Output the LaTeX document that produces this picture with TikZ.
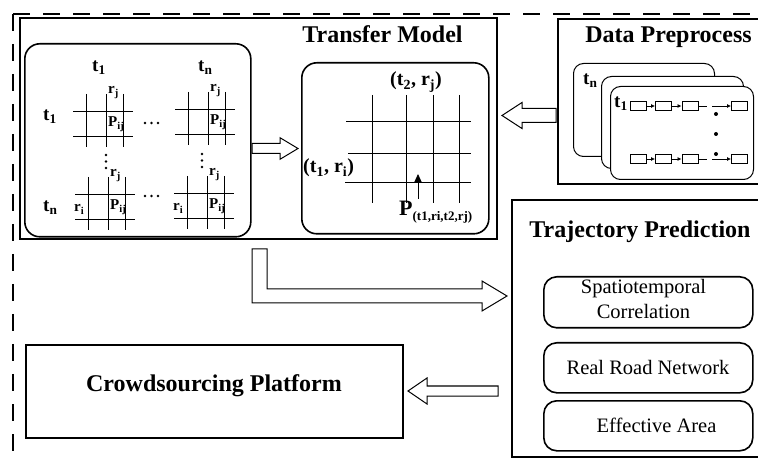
\documentclass[tikz,border=0pt]{standalone}
\usepackage{fontspec}
\setmainfont{Liberation Serif}
\usetikzlibrary{arrows.meta}
\tikzset{
  mainbox/.style={draw, line width=2pt, anchor=north west, inner sep=0pt, outer sep=0pt},
  rbox/.style={draw, line width=1.6pt, rounded corners=15pt, anchor=north west, inner sep=0pt},
  card/.style={draw, line width=1pt, rounded corners=10pt, fill=white, anchor=north west, inner sep=0pt},
  optbox/.style={draw, line width=1.6pt, rounded corners=13pt, anchor=north west, inner sep=0pt},
  title/.style={font=\fontsize{24}{28}\selectfont\bfseries, anchor=base, inner sep=0pt},
  tlabel/.style={font=\fontsize{19}{22}\selectfont\bfseries, anchor=base west, inner sep=0pt},
  small/.style={font=\fontsize{15}{18}\selectfont\bfseries, anchor=base west, inner sep=0pt},
  coord/.style={font=\fontsize{20}{24}\selectfont\bfseries, inner sep=0pt},
  body/.style={font=\fontsize{20.5}{25}\selectfont, anchor=base, inner sep=0pt},
  gridline/.style={line width=0.9pt},
  blockarrow/.style={draw, line width=1pt, fill=white, line join=miter},
  chainbox/.style={draw, line width=0.9pt, minimum width=16pt, minimum height=9pt, inner sep=0pt},
  chainarrow/.style={line width=0.8pt, -{Latex[length=4pt,width=4pt]}},
  dashborder/.style={line width=2.6pt, dash pattern=on 17pt off 13pt},
  smallgrid/.pic={
    \draw[gridline] (-13,0) -- (47,0) (-13,25) -- (47,25);
    \draw[gridline] (0,-17) -- (0,36) (20,-17) -- (20,36) (37,-17) -- (37,36);
    \node[small] (-rj) at (22,-17) {r\textsubscript{j}};
    \node[small] (-p) at (22,16) {P\textsubscript{ij}};
  }
}
\begin{document}
\begin{tikzpicture}[x=1pt,y=-1pt]
\useasboundingbox (0,0) rectangle (758,462);
\clip (0,0) rectangle (758,462);
\fill[white] (0,0) rectangle (758,462);

% dashed outer border
\draw[dashborder] (13,14) -- (775,14);
\draw[dashborder] (13,14) -- (13,475);

% ---------- Transfer Model ----------
\node[mainbox, minimum width=477pt, minimum height=221pt] (tm) at (20,18) {};
\node[title] (tmt) at (382.5,43) {Transfer Model};
\node[rbox, minimum width=226pt, minimum height=193pt] (lbox) at (24,43) {};
\node[rbox, minimum width=187pt, minimum height=171pt] (rbx) at (301,62) {};

% left box labels
\node[tlabel] (tc1) at (92,72) {t\textsubscript{1}};
\node[tlabel] (tcn) at (198,72) {t\textsubscript{n}};
\node[tlabel] (tr1) at (43,121) {t\textsubscript{1}};
\node[tlabel] (trn) at (43,212) {t\textsubscript{n}};

\pic (g1) at (86,111) {smallgrid};
\pic (g2) at (188,109) {smallgrid};
\pic (g3) at (88,194) {smallgrid};
\pic (g4) at (187,193) {smallgrid};
\node[small] (ri3) at (74,212) {r\textsubscript{i}};
\node[small] (ri4) at (173,211) {r\textsubscript{i}};

% ellipses
\foreach \x in {145,151.5,158} {
  \fill (\x,123) circle[radius=1.3pt];
  \fill (\x,196) circle[radius=1.3pt];
}
\foreach \y in {155,161.5,168} {
  \fill (106,\y) circle[radius=1.3pt];
  \fill (202,\y-1) circle[radius=1.3pt];
}

% right grid
\draw[gridline] (346,121) -- (471,121) (348,153) -- (471,153) (345,182) -- (471,182);
\draw[gridline] (372,95) -- (372,203) (406,95) -- (406,203) (433,95) -- (433,203) (459,95) -- (459,203);
\node[coord, anchor=base] (t2rj) at (416,86) {(t\textsubscript{2}, r\textsubscript{j})};
\node[coord, anchor=base west] (t1ri) at (303,173) {(t\textsubscript{1}, r\textsubscript{i})};
\node[anchor=base west, inner sep=0pt, font=\fontsize{22}{26}\selectfont\bfseries] (pl) at (399,216)
  {P\raisebox{-5pt}{\fontsize{13}{15}\selectfont(t1,ri,t2,rj)}};
\coordinate (pa1) at (418,199);
\coordinate (pa2) at (418,174);
\draw[line width=0.9pt, -{Triangle[length=9pt,width=8pt]}] (pa1) -- (pa2);

% arrow left box -> right box
\draw[blockarrow] (252,143.3) -- (280,143.3) -- (280,137.7) -- (298,148.5) -- (280,159.3) -- (280,153.3) -- (252,153.3) -- cycle;

% ---------- Data Preprocess ----------
\node[mainbox, minimum width=215pt, minimum height=165pt] (dp) at (558,19) {};
\node[title] (dpt) at (668.5,43) {Data Preprocess};
\node[card, minimum width=141pt, minimum height=93pt] (cd3) at (573,63) {};
\node[card, minimum width=142pt, minimum height=92pt] (cd2) at (601,76) {};
\node[card, minimum width=143pt, minimum height=93pt] (cd1) at (610,86) {};
\node[tlabel] (tnl) at (583,85) {t\textsubscript{n}};
\node[tlabel] (t1l) at (614,108) {t\textsubscript{1}};

\foreach \r/\yy in {1/106, 2/159} {
  \node[chainbox] (a\r1) at (638.5,\yy) {};
  \node[chainbox] (a\r2) at (663.5,\yy) {};
  \node[chainbox] (a\r3) at (690,\yy) {};
  \node[chainbox] (a\r4) at (739.5,\yy) {};
  \coordinate (s\r a) at (707,\yy);
  \coordinate (s\r b) at (712,\yy);
  \draw[chainarrow] (a\r1) -- (a\r2);
  \draw[chainarrow] (a\r2) -- (a\r3);
  \draw[line width=0.8pt] (a\r3.east) -- (s\r a);
  \draw[chainarrow] (s\r b) -- (a\r4);
}
\fill (716,114) circle[radius=2pt];
\fill (716,134) circle[radius=2pt];
\fill (716,154) circle[radius=2pt];

% arrow data preprocess -> transfer model
\draw[blockarrow] (556,108.5) -- (522,108.5) -- (522,102.5) -- (502,115.5) -- (522,128.5) -- (522,122.5) -- (556,122.5) -- cycle;

% ---------- Trajectory Prediction ----------
\node[mainbox, minimum width=265pt, minimum height=257pt] (tp) at (512,200) {};
\node[title] (tpt) at (640,238) {Trajectory Prediction};
\node[optbox, minimum width=209pt, minimum height=51pt] (o1) at (543,276) {};
\node[optbox, minimum width=209pt, minimum height=50pt] (o2) at (543,342) {};
\node[optbox, minimum width=209pt, minimum height=50pt] (o3) at (543,400) {};
\node[body] (o1a) at (643.5,294) {Spatiotemporal};
\node[body] (o1b) at (643.5,319) {Correlation};
\node[body] (o2t) at (648,374) {Real Road Network};
\node[body] (o3t) at (656.5,432) {Effective Area};

% bent arrow transfer model -> trajectory prediction
\draw[blockarrow] (252,249) -- (267,249) -- (267,289) -- (482,289) -- (482,281) -- (507,296) -- (482,311) -- (482,303) -- (252,303) -- cycle;

% ---------- Crowdsourcing Platform ----------
\node[mainbox, minimum width=377pt, minimum height=93pt] (cp) at (26,345) {};
\node[title] (cpt) at (214,391.5) {Crowdsourcing Platform};

% arrow trajectory -> crowdsourcing
\draw[blockarrow] (498,386) -- (427,386) -- (427,378) -- (408,391) -- (427,404) -- (427,396) -- (498,396) -- cycle;
\end{tikzpicture}
\end{document}
